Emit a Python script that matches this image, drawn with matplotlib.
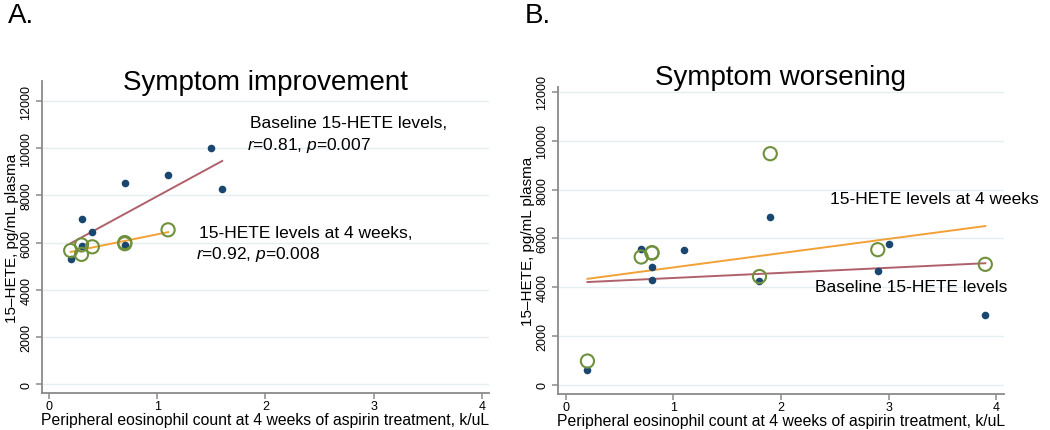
import numpy as np
import matplotlib
matplotlib.use("Agg")
import matplotlib.pyplot as plt

plt.rcParams['font.family'] = ['Liberation Sans', 'DejaVu Sans']
plt.rcParams['mathtext.fontset'] = 'custom'
plt.rcParams['mathtext.rm'] = 'Liberation Sans'
plt.rcParams['mathtext.it'] = 'Liberation Sans:italic'

# Panel A: symptom improvement
a_base_x = [0.2, 0.3, 0.3, 0.4, 0.7, 0.7, 1.1, 1.5, 1.6]
a_base_y = [5300, 5870, 7000, 6440, 8520, 5910, 8870, 10000, 8280]
a_wk4_x = [0.2, 0.3, 0.3, 0.4, 0.7, 0.7, 1.1]
a_wk4_y = [5660, 5900, 5500, 5820, 6000, 5950, 6540]

# Panel B: symptom worsening
b_base_x = [0.2, 0.7, 0.8, 0.8, 1.1, 1.8, 1.9, 2.9, 3.0, 3.9]
b_base_y = [610, 5580, 4810, 4300, 5540, 4270, 6870, 4650, 5780, 2880]
b_wk4_x = [0.2, 0.7, 0.8, 0.8, 1.8, 1.9, 2.9, 3.9]
b_wk4_y = [980, 5240, 5420, 5400, 4440, 9470, 5540, 4940]

x_ticks = [0, 1, 2, 3, 4]
y_ticks = [0, 2000, 4000, 6000, 8000, 10000, 12000]

NAVY = '#1a476f'
GREEN = '#6f913c'
MAROON = '#b0606a'
ORANGE = '#f2a136'
GRAY = '#8a8a8a'
GRID = '#e4eef0'

fig = plt.figure(figsize=(10.5, 4.31), dpi=100)


def fit_line(ax, xs, ys, color):
    xs = np.asarray(xs, float)
    ys = np.asarray(ys, float)
    m, b = np.polyfit(xs, ys, 1)
    xx = np.array([xs.min(), xs.max()])
    ax.plot(xx, m * xx + b, color=color, lw=1.4, zorder=3)


def style(ax, xlim, ylim):
    ax.set_xlim(*xlim)
    ax.set_ylim(*ylim)
    ax.set_xticks(x_ticks)
    ax.set_yticks(y_ticks)
    ax.set_yticklabels([str(v) for v in y_ticks], rotation=90, va='center')
    for s in ['top', 'right']:
        ax.spines[s].set_visible(False)
    for s in ['left', 'bottom']:
        ax.spines[s].set_color(GRAY)
        ax.spines[s].set_linewidth(1.3)
    ax.tick_params(axis='both', colors=GRAY, length=4, width=1.1, labelsize=9,
                   labelcolor='black')
    ax.tick_params(axis='y', pad=3)
    ax.tick_params(axis='x', pad=1)
    for v in y_ticks:
        ax.axhline(v, color=GRID, lw=1.0, zorder=0)
    ax.set_ylabel('15\u2013HETE, pg/mL plasma', fontsize=11, labelpad=1)
    ax.set_xlabel('Peripheral eosinophil count at 4 weeks of aspirin treatment, k/uL',
                  fontsize=11.3, labelpad=0)


# ---- Panel A
axA = fig.add_axes([0.040, 0.0858, 0.4257, 0.7239])
style(axA, (-0.065, 4.065), (-380, 12850))
fit_line(axA, a_base_x, a_base_y, MAROON)
fit_line(axA, a_wk4_x, a_wk4_y, ORANGE)
axA.scatter(a_base_x, a_base_y, s=30, color=NAVY, zorder=4, linewidths=0)
axA.scatter(a_wk4_x, a_wk4_y, s=90, facecolors='none', edgecolors=GREEN,
            linewidths=1.5, zorder=5)
axA.text(0.5, 0.975, 'Symptom improvement', transform=axA.transAxes,
         ha='center', va='baseline', fontsize=20)
axA.text(1.86, 10880, 'Baseline 15-HETE levels,', fontsize=12.5, va='baseline')
axA.text(1.83, 9980, r'$\mathit{r}$=0.81, $\mathit{p}$=0.007', fontsize=12.5, va='baseline')
axA.text(1.39, 6220, '15-HETE levels at 4 weeks,', fontsize=12.5, va='baseline')
axA.text(1.36, 5330, r'$\mathit{r}$=0.92, $\mathit{p}$=0.008', fontsize=12.5, va='baseline')
fig.text(0.008, 0.947, 'A.', fontsize=20, va='baseline')

# ---- Panel B
axB = fig.add_axes([0.5314, 0.0835, 0.4248, 0.7123])
style(axB, (-0.074, 4.074), (-370, 12200))
fit_line(axB, b_base_x, b_base_y, MAROON)
fit_line(axB, b_wk4_x, b_wk4_y, ORANGE)
axB.scatter(b_base_x, b_base_y, s=30, color=NAVY, zorder=4, linewidths=0)
axB.scatter(b_wk4_x, b_wk4_y, s=90, facecolors='none', edgecolors=GREEN,
            linewidths=1.5, zorder=5)
axB.text(0.5, 1.01, 'Symptom worsening', transform=axB.transAxes,
         ha='center', va='baseline', fontsize=20)
axB.text(2.46, 7460, '15-HETE levels at 4 weeks', fontsize=12.5, va='baseline')
axB.text(2.32, 3860, 'Baseline 15-HETE levels', fontsize=12.5, va='baseline')
fig.text(0.500, 0.947, 'B.', fontsize=20, va='baseline')

fig.savefig('out.png', dpi=100)
